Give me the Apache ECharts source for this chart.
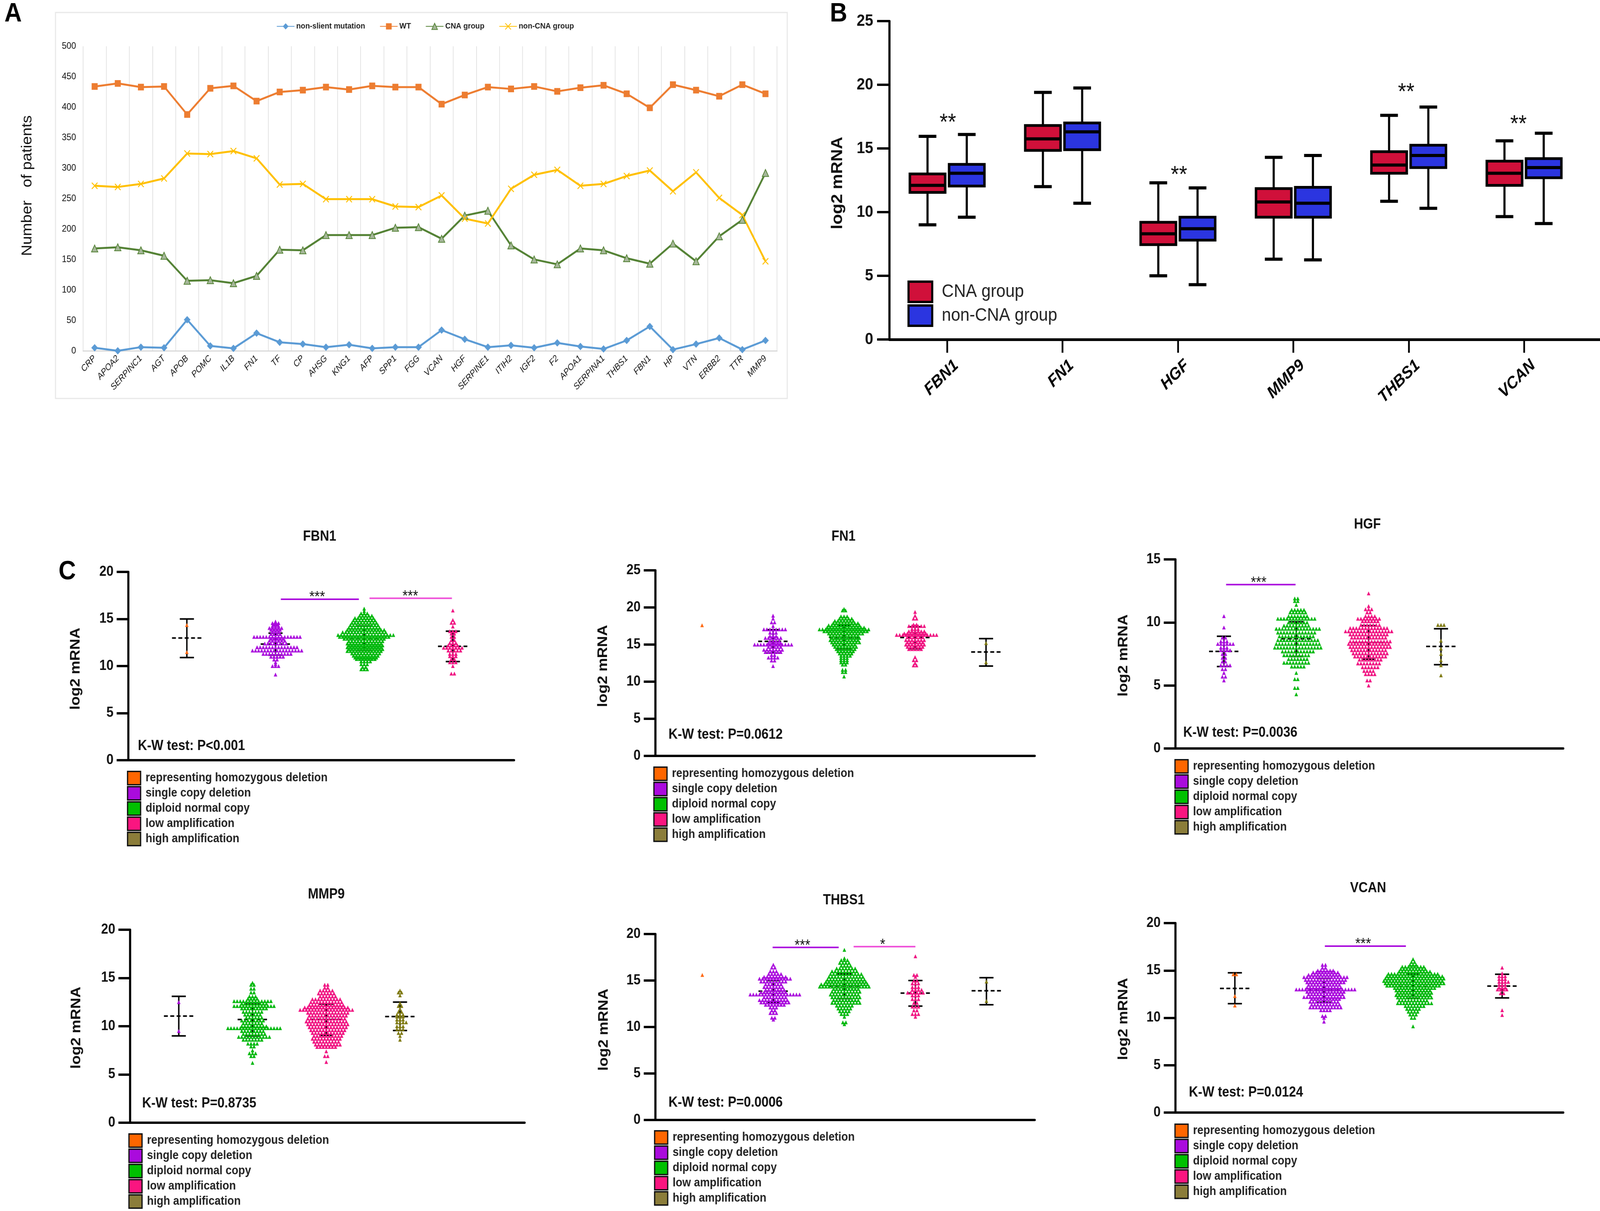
<!DOCTYPE html>
<html>
<head>
<meta charset="utf-8">
<title>CNA figure</title>
<script src="https://cdn.jsdelivr.net/npm/echarts@6/dist/echarts.min.js"></script>
<style>html,body{margin:0;padding:0;background:#fff;overflow:hidden;width:100%;height:100%}#c{width:4526px;height:3100px;transform-origin:0 0}</style>
</head>
<body>
<div id="c"></div>
<script>
// ---------- Panel A ----------
const genesA = ['CRP','APOA2','SERPINC1','AGT','APOB','POMC','IL1B','FN1','TF','CP','AHSG','KNG1','AFP','SPP1','FGG','VCAN','HGF','SERPINE1','ITIH2','IGF2','F2','APOA1','SERPINA1','THBS1','FBN1','HP','VTN','ERBB2','TTR','MMP9'];
const nonSilent = [5,0,6,5,51,8,4,29,14,11,6,10,4,6,6,34,19,6,9,5,13,7,3,17,40,2,11,21,2,17];
const wildType = [434,439,433,434,388,431,435,410,425,428,433,429,435,433,433,405,420,433,430,434,426,432,436,422,399,437,428,418,437,422];
const cnaCounts = [168,170,165,156,115,116,111,123,166,165,190,190,190,202,203,184,222,230,173,150,142,168,165,152,143,176,147,188,215,292];
const nonCnaCounts = [271,269,274,283,324,323,328,316,273,274,249,249,249,237,236,255,217,209,266,289,297,271,274,287,296,262,293,251,223,147];

// ---------- Panel B: [category index, low, q1, median, q3, high] ----------
const genesB = ['FBN1','FN1','HGF','MMP9','THBS1','VCAN'];
const boxCna = [[0,9.0,11.55,12.1,13.0,15.95],[1,12.0,14.85,15.75,16.8,19.4],[2,5.0,7.45,8.3,9.2,12.3],[3,6.3,9.6,10.8,11.85,14.3],[4,10.85,13.05,13.7,14.75,17.6],[5,9.65,12.1,13.05,14.0,15.6]];
const boxNonCna = [[0,9.6,12.05,13.05,13.75,16.1],[1,10.7,14.9,16.3,17.0,19.75],[2,4.3,7.8,8.7,9.6,11.9],[3,6.25,9.6,10.7,11.95,14.45],[4,10.3,13.5,14.45,15.25,18.25],[5,9.1,12.7,13.5,14.2,16.2]];
const bStars = [[0,17.4],[2,13.3],[4,19.8],[5,17.3]];

// ---------- Panel C swarms: rows of [log2 mRNA, number of points in the row] ----------
const fbn1Homo = [[14.36,1],[11.48,1]];
const fbn1Single = [[14.73,1],[14.56,3],[14.4,2],[14.25,3],[14.05,5],[13.85,4],[13.65,3],[13.4,4],[13.1,16],[12.9,5],[12.7,6],[12.4,8],[12.0,14],[11.65,17],[11.3,10],[11.0,5],[10.7,2],[10.4,1],[10.2,1],[10.0,3],[9.1,1]];
const fbn1Diploid = [[16.1,1],[15.85,1],[15.6,3],[15.35,5],[15.1,7],[14.85,8],[14.6,9],[14.35,10],[14.07,11],[13.85,13],[13.6,15],[13.3,19],[13.1,17],[12.9,14],[12.65,12],[12.4,12],[12.2,12],[12.0,12],[11.8,12],[11.6,12],[11.35,10],[11.1,9],[10.9,8],[10.75,7],[10.5,4],[10.2,3],[9.9,2],[9.66,3]];
const fbn1Low = [[15.9,1],[14.9,1],[14.6,2],[14.2,1],[13.7,3],[13.45,2],[13.1,2],[12.75,2],[12.45,3],[12.2,4],[11.95,7],[11.65,5],[11.3,3],[11.05,3],[10.75,2],[10.4,3],[10.0,1],[9.2,2]];
const fn1Homo = [[17.6,1]];
const fn1Single = [[18.9,1],[18.5,1],[18.0,2],[17.5,1],[17.05,8],[16.6,3],[16.15,3],[15.9,6],[15.5,4],[15.2,5],[15.0,13],[14.7,5],[14.3,7],[14.0,6],[13.6,2],[13.25,4],[12.85,2],[12.1,1]];
const fn1Diploid = [[19.8,1],[19.6,2],[18.8,3],[18.5,5],[18.2,7],[17.9,9],[17.6,11],[17.3,13],[17.05,17],[16.8,15],[16.5,12],[16.2,10],[15.9,10],[15.6,10],[15.3,10],[15.0,8],[14.7,8],[14.4,7],[14.1,6],[13.8,5],[13.5,4],[13.2,3],[12.9,3],[12.6,3],[12.3,2],[11.6,2],[11.3,2],[10.7,1]];
const fn1Low = [[19.4,1],[18.9,1],[18.5,2],[17.7,2],[17.5,6],[17.1,3],[16.8,6],[16.5,8],[16.3,14],[16.0,6],[15.6,7],[15.3,6],[15.0,7],[14.7,6],[14.4,5],[13.3,1],[12.9,2],[12.5,1],[12.2,2]];
const fn1High = [[15.2,1],[12.6,1]];
const hgfSingle = [[10.5,1],[9.6,1],[8.8,2],[8.5,3],[8.3,6],[8.0,3],[7.8,4],[7.5,2],[7.2,2],[6.9,2],[6.6,4],[6.3,2],[6.0,1],[5.7,2],[5.4,1]];
const hgfDiploid = [[11.9,2],[11.7,2],[11.4,1],[11.0,5],[10.8,6],[10.5,7],[10.3,13],[10.0,7],[9.75,9],[9.5,15],[9.2,13],[8.9,12],[8.6,14],[8.3,15],[8.0,16],[7.7,11],[7.4,9],[7.1,7],[6.8,9],[6.5,5],[6.0,1],[5.5,2],[4.8,2],[4.3,1]];
const hgfLow = [[12.3,1],[11.3,1],[11.05,3],[10.8,2],[10.5,4],[10.3,8],[10.1,6],[9.8,7],[9.55,13],[9.3,16],[9.05,13],[8.8,12],[8.5,14],[8.3,14],[8.05,14],[7.8,12],[7.55,12],[7.3,11],[7.05,8],[6.75,8],[6.45,6],[6.15,4],[5.9,4],[5.4,2],[5.0,1]];
const hgfHigh = [[9.8,3],[8.55,1],[7.93,1],[7.5,1],[7.0,1],[6.6,1],[5.8,1]];
const mmp9Single = [[12.5,1],[9.5,1]];
const mmp9Diploid = [[14.5,1],[14.3,2],[13.9,2],[13.5,2],[13.1,3],[12.85,4],[12.6,13],[12.35,9],[12.1,14],[11.85,9],[11.5,7],[11.2,6],[10.9,6],[10.6,8],[10.3,7],[10.0,9],[9.8,18],[9.5,8],[9.2,8],[8.9,11],[8.6,7],[8.2,4],[7.9,2],[7.5,1],[7.2,3],[6.9,2],[6.2,1]];
const mmp9Low = [[14.3,2],[14.0,2],[13.7,5],[13.4,6],[13.1,6],[12.8,10],[12.5,11],[12.2,12],[11.95,15],[11.7,18],[11.4,14],[11.1,13],[10.8,13],[10.5,14],[10.2,14],[9.9,13],[9.6,12],[9.3,11],[9.0,10],[8.7,10],[8.4,9],[8.1,9],[7.85,7],[7.4,1],[6.9,2],[6.3,1]];
const mmp9High = [[13.7,1],[13.5,2],[13.2,1],[12.4,1],[12.1,2],[11.8,1],[11.5,2],[11.2,3],[11.0,3],[10.7,3],[10.4,4],[10.0,3],[9.7,3],[9.3,2],[9.0,1],[8.6,1]];
const thbs1Homo = [[15.6,1]];
const thbs1Single = [[16.7,1],[16.4,2],[16.0,3],[15.7,5],[15.4,8],[15.2,11],[14.9,9],[14.6,6],[14.3,7],[14.0,7],[13.75,9],[13.5,17],[13.2,8],[12.9,10],[12.65,10],[12.4,7],[12.1,3],[11.8,2],[11.5,3],[11.0,2],[10.8,1]];
const thbs1Diploid = [[18.3,1],[17.4,1],[17.2,3],[16.9,4],[16.6,4],[16.3,7],[16.0,9],[15.7,11],[15.4,12],[15.1,13],[14.85,14],[14.6,16],[14.35,17],[14.1,9],[13.8,10],[13.5,10],[13.2,10],[12.9,9],[12.6,10],[12.3,6],[12.0,5],[11.7,4],[11.4,3],[11.1,1],[10.5,2],[10.3,1]];
const thbs1Low = [[17.6,1],[15.6,2],[15.4,1],[15.0,2],[14.7,3],[14.3,3],[14.0,4],[13.7,6],[13.4,3],[13.0,3],[12.6,2],[12.2,3],[11.8,2],[11.4,3],[11.1,1]];
const thbs1High = [[14.9,1],[12.8,1]];
const vcanHomo = [[14.6,2],[12.3,1],[11.3,1]];
const vcanSingle = [[15.6,2],[15.3,2],[15.0,6],[14.8,9],[14.55,11],[14.3,15],[14.0,14],[13.75,13],[13.5,11],[13.2,12],[13.0,20],[12.75,13],[12.5,12],[12.2,14],[12.0,10],[11.7,10],[11.4,10],[11.1,11],[10.8,4],[10.2,2],[10.0,1],[9.6,1]];
const vcanDiploid = [[16.2,1],[15.9,2],[15.6,3],[15.4,8],[15.15,9],[14.9,11],[14.65,17],[14.4,19],[14.15,20],[13.9,20],[13.65,20],[13.4,18],[13.15,14],[12.9,12],[12.65,12],[12.4,12],[12.15,12],[11.85,10],[11.55,12],[11.25,7],[10.95,5],[10.65,4],[10.35,3],[10.0,2],[9.1,1]];
const vcanLow = [[15.3,1],[14.7,1],[14.4,3],[14.1,3],[13.8,4],[13.5,3],[13.2,3],[13.0,4],[12.6,2],[10.8,1],[10.3,1]];

// Mean and SD bars: [slot, mean - SD, mean, mean + SD]
const fbn1Stats = [[0,10.9,12.98,15.0],[1,11.15,12.33,13.5],[2,11.67,12.95,14.24],[3,10.48,12.1,13.7]];
const fn1Stats = [[1,13.84,15.44,17.0],[2,14.45,15.95,17.55],[3,14.45,15.95,17.4],[4,12.1,14.0,15.8]];
const hgfStats = [[1,6.5,7.7,8.9],[2,7.3,8.7,10.05],[3,7.07,8.4,9.75],[4,6.65,8.1,9.5]];
const mmp9Stats = [[1,9.0,11.05,13.1],[2,9.0,10.7,12.3],[3,9.05,10.7,12.3],[4,9.55,11.0,12.5]];
const thbs1Stats = [[1,12.65,13.85,15.0],[2,13.05,14.4,15.7],[3,12.25,13.65,15.0],[4,12.4,13.9,15.3]];
const vcanStats = [[0,11.5,13.1,14.75],[1,11.65,12.9,14.15],[2,12.05,13.3,14.6],[3,12.1,13.35,14.6]];

// Significance bars: [from slot, to slot, value, star slot, stars, kind]
const fbn1Sig = [[1.06,1.94,17.1,1.47,'***',0],[2.06,2.99,17.2,2.52,'***',1]];
const hgfSig = [[1.03,1.99,13.0,1.48,'***',0]];
const thbs1Sig = [[0.99,1.92,18.56,1.41,'***',0],[2.13,3.0,18.65,2.54,'*',1]];
const vcanSig = [[1.01,1.92,17.57,1.44,'***',0]];

const groupNames = ['representing homozygous deletion','single copy deletion','diploid normal copy','low amplification','high amplification'];
const swatchColors = ['#FF6600','#AA0BDD','#00C000','#FA1580','#8B7D3A'];
const pointColors = ['#FF6A13','#AA0BDD','#00B80C','#F01482','#7F7A12'];
const sigColors = ['#AA0BDD','#EE4FD8'];

const font = '"Liberation Sans", Arial, sans-serif';

// ---------- layout of the six small charts (pixels) ----------
const panels = [
 {title:'FBN1',l:363,t:1464,r:1454,b:1946,ymax:20,xmin:-0.66,xmax:3.69,sp:251,tx:904,ty:1376,kw:'K-W test: P<0.001',kx:390,ky:1910,lx:359,ly:1973,nameX:234,nameShift:-14,
  swarms:[[0,fbn1Homo],[1,fbn1Single],[2,fbn1Diploid],[3,fbn1Low]],stats:fbn1Stats,sig:fbn1Sig},
 {title:'FN1',l:1854,t:1460,r:2927,b:1935,ymax:25,xmin:-0.657,xmax:4.686,sp:200.8,tx:2386,ty:1376,kw:'K-W test: P=0.0612',kx:1891,ky:1881,lx:1848,ly:1962,nameX:1726,nameShift:-15,
  swarms:[[0,fn1Homo],[1,fn1Single],[2,fn1Diploid],[3,fn1Low],[4,fn1High]],stats:fn1Stats,sig:[]},
 {title:'HGF',l:3325,t:1432,r:4422,b:1916,ymax:15,xmin:0.33,xmax:5.69,sp:204.7,tx:3868,ty:1345,kw:'K-W test: P=0.0036',kx:3347,ky:1876,lx:3322,ly:1943,nameX:3198,nameShift:-8,
  swarms:[[1,hgfSingle],[2,hgfDiploid],[3,hgfLow],[4,hgfHigh]],stats:hgfStats,sig:hgfSig},
 {title:'MMP9',l:368,t:2380,r:1484,b:2874,ymax:20,xmin:0.34,xmax:5.69,sp:208.7,tx:923,ty:2292,kw:'K-W test: P=0.8735',kx:402,ky:2825,lx:363,ly:2901,nameX:236,nameShift:-8,
  swarms:[[1,mmp9Single],[2,mmp9Diploid],[3,mmp9Low],[4,mmp9High]],stats:mmp9Stats,sig:[]},
 {title:'THBS1',l:1854,t:2391,r:2927,b:2867,ymax:20,xmin:-0.66,xmax:4.68,sp:200.5,tx:2387,ty:2307,kw:'K-W test: P=0.0006',kx:1891,ky:2823,lx:1850,ly:2893,nameX:1728,nameShift:-14,
  swarms:[[0,thbs1Homo],[1,thbs1Single],[2,thbs1Diploid],[3,thbs1Low],[4,thbs1High]],stats:thbs1Stats,sig:thbs1Sig},
 {title:'VCAN',l:3325,t:2363,r:4422,b:2848,ymax:20,xmin:-0.667,xmax:3.686,sp:252,tx:3870,ty:2276,kw:'K-W test: P=0.0124',kx:3363,ky:2797,lx:3322,ly:2876,nameX:3198,nameShift:-6,
  swarms:[[0,vcanHomo],[1,vcanSingle],[2,vcanDiploid],[3,vcanLow]],stats:vcanStats,sig:vcanSig}
];

const grids=[], xAxes=[], yAxes=[], series=[], legends=[], titles=[], graphics=[];

// frame and panel letters
graphics.push({type:'rect',z:-10,shape:{x:157,y:32,width:2070,height:988},style:{fill:'#fff',stroke:'#e8e8e8',lineWidth:3}});
[['A',37,36],['B',2372,36],['C',190,1464]].forEach(a=>graphics.push({type:'text',x:a[1],y:a[2],style:{text:a[0],font:'bold 68px '+font,fill:'#000',textAlign:'center',textVerticalAlign:'middle'}}));

// ---------- A ----------
grids.push({left:235,top:118.5,width:1963,height:779.5});
xAxes.push({type:'category',gridIndex:0,data:genesA,boundaryGap:true,
  axisLine:{show:true,lineStyle:{color:'#d9d9d9',width:3}},axisTick:{show:false},
  splitLine:{show:true,interval:0,lineStyle:{color:'#e2e2e2',width:2}},
  axisLabel:{interval:0,rotate:45,margin:16,fontFamily:font,fontStyle:'italic',fontSize:23,color:'#111'}});
yAxes.push({type:'value',gridIndex:0,min:0,max:500,interval:50,name:'Number   of patients',nameLocation:'middle',nameGap:137,
  nameTextStyle:{fontFamily:font,fontSize:40,color:'#111',padding:[0,0,0,66]},
  axisLine:{show:false},axisTick:{show:false},splitLine:{show:false},
  axisLabel:{margin:20,fontFamily:font,fontSize:24,color:'#111'}});
const xPath='path://M0 0L10 10M10 0L0 10';
[['non-slient mutation',nonSilent,'#5B9BD5','diamond',19,'#5B9BD5',0],
 ['WT',wildType,'#ED7D31','rect',17,'#ED7D31',0],
 ['CNA group',cnaCounts,'#548235','triangle',18,'#A6B79A',2],
 ['non-CNA group',nonCnaCounts,'#FFC000',xPath,16,'none',2.5]].forEach(s=>{
  series.push({name:s[0],type:'line',xAxisIndex:0,yAxisIndex:0,data:s[1],symbol:s[3],symbolSize:s[4],showSymbol:true,
    lineStyle:{color:s[2],width:5},itemStyle:{color:s[5],borderColor:s[2],borderWidth:s[6]},z:3});
});
legends.push({left:782,top:57,itemWidth:50,itemHeight:20,itemGap:41,padding:0,
  data:['non-slient mutation','WT','CNA group','non-CNA group'],
  textStyle:{fontFamily:font,fontWeight:'bold',fontSize:21,color:'#222'}});

// ---------- B ----------
const bTop=54,bBottom=869;
const bTicks=genesB.map((g,i)=>i);
grids.push({left:2516,top:bTop,right:0,height:bBottom-bTop});
xAxes.push({type:'value',gridIndex:1,min:-0.5,max:5.658,
  axisLine:{show:true,onZero:false,lineStyle:{color:'#000',width:7}},
  axisTick:{show:true,customValues:bTicks,length:34,lineStyle:{color:'#000',width:5}},
  splitLine:{show:false},
  axisLabel:{customValues:bTicks,formatter:v=>genesB[v],rotate:42,margin:32,verticalAlign:'top',padding:[17,0,0,0],lineHeight:43,fontFamily:font,fontWeight:'bold',fontStyle:'italic',fontSize:43,color:'#000'}});
yAxes.push({type:'value',gridIndex:1,min:0,max:25,interval:5,name:'log2 mRNA',nameLocation:'middle',nameGap:124,
  nameTextStyle:{fontFamily:font,fontWeight:'bold',fontSize:44,color:'#111',padding:[0,14,0,0]},
  axisLine:{show:true,onZero:false,lineStyle:{color:'#000',width:6}},
  axisTick:{show:true,length:35,lineStyle:{color:'#000',width:6}},splitLine:{show:false},
  axisLabel:{margin:46,fontFamily:font,fontWeight:'bold',fontSize:42,color:'#111'}});
function boxRender(shift,fill){
  return function(params,api){
    const cat=api.value(0),p=k=>api.coord([cat,api.value(k)]);
    const lo=p(1),q1=p(2),med=p(3),q3=p(4),hi=p(5);
    const x=lo[0]+shift,hb=50,hc=25;
    const ln=(x1,y1,x2,y2,w)=>({type:'line',shape:{x1,y1,x2,y2},style:{stroke:'#000',lineWidth:w||6}});
    return {type:'group',children:[
      ln(x,hi[1],x,q3[1]),ln(x,q1[1],x,lo[1]),
      ln(x-hc,hi[1],x+hc,hi[1],8),ln(x-hc,lo[1],x+hc,lo[1],8),
      {type:'rect',shape:{x:x-hb,y:q3[1],width:hb*2,height:q1[1]-q3[1]},style:{fill:fill,stroke:'#000',lineWidth:7}},
      ln(x-hb,med[1],x+hb,med[1],8)
    ]};
  };
}
series.push({name:'CNA group ',type:'custom',xAxisIndex:1,yAxisIndex:1,data:boxCna,renderItem:boxRender(-55.5,'#D0103A'),encode:{x:0,y:[1,2,3,4,5]},z:3,silent:true});
series.push({name:'non-CNA group ',type:'custom',xAxisIndex:1,yAxisIndex:1,data:boxNonCna,renderItem:boxRender(55.5,'#2B35E0'),encode:{x:0,y:[1,2,3,4,5]},z:3,silent:true});
const bStarShift={0:2,2:3,4:-7,5:-16};
series.push({name:'B significance',type:'custom',xAxisIndex:1,yAxisIndex:1,data:bStars,encode:{x:0,y:1},z:4,silent:true,
  renderItem(params,api){
    const c=api.coord([api.value(0),api.value(1)]);
    return {type:'text',x:c[0]+(bStarShift[api.value(0)]||0),y:c[1]+14,style:{text:'**',font:'60px '+font,fill:'#111',textAlign:'center',textVerticalAlign:'middle'}};
  }});
legends.push({left:2567,top:718,height:200,orient:'vertical',itemWidth:67,itemHeight:52,itemGap:3,padding:0,
  data:[{name:'CNA group ',icon:'rect',itemStyle:{color:'#D0103A',borderColor:'#000',borderWidth:6,opacity:1}},
        {name:'non-CNA group ',icon:'rect',itemStyle:{color:'#2B35E0',borderColor:'#000',borderWidth:6,opacity:1}}],
  formatter:n=>n.trim(),
  textStyle:{fontFamily:font,fontSize:47,color:'#222',padding:[0,0,0,22]}});

// ---------- C ----------
const ptGap=8.7;
panels.forEach((p,i)=>{
  const gi=i+2;
  grids.push({left:p.l,top:p.t,width:p.r-p.l,height:p.b-p.t});
  xAxes.push({type:'value',gridIndex:gi,min:p.xmin,max:p.xmax,axisLine:{show:true,onZero:false,lineStyle:{color:'#000',width:6}},axisTick:{show:false},axisLabel:{show:false},splitLine:{show:false}});
  yAxes.push({type:'value',gridIndex:gi,min:0,max:p.ymax,interval:5,name:'log2 mRNA',nameLocation:'middle',nameGap:p.l-p.nameX,
    nameTextStyle:{fontFamily:font,fontWeight:'bold',fontSize:39,color:'#111',padding:p.nameShift<0?[0,-p.nameShift,0,0]:[0,0,0,p.nameShift]},
    axisLine:{show:true,onZero:false,lineStyle:{color:'#000',width:6}},axisTick:{show:true,length:33,lineStyle:{color:'#000',width:6}},splitLine:{show:false},
    axisLabel:{margin:42,fontFamily:font,fontWeight:'bold',fontSize:36,color:'#111'}});
  titles.push({text:p.title,left:p.tx,top:p.ty-20,textAlign:'center',padding:0,textStyle:{fontFamily:font,fontWeight:'bold',fontSize:36,color:'#111'}});
  graphics.push({type:'text',x:p.kx,y:p.ky,style:{text:p.kw,font:'bold 36px '+font,fill:'#111',textAlign:'left',textVerticalAlign:'middle'}});
  // mean and SD bars, behind the points
  series.push({name:p.title+' mean and SD',type:'custom',xAxisIndex:gi,yAxisIndex:gi,data:p.stats,encode:{x:0,y:[1,2,3]},z:2,silent:true,
    renderItem(params,api){
      const s=api.value(0),lo=api.coord([s,api.value(1)]),m=api.coord([s,api.value(2)]),hi=api.coord([s,api.value(3)]);
      const x=lo[0];
      const ln=(x1,y1,x2,y2,extra)=>({type:'line',shape:{x1,y1,x2,y2},style:Object.assign({stroke:'#000',lineWidth:4},extra||{})});
      return {type:'group',children:[
        ln(x,lo[1],x,hi[1]),ln(x-20,lo[1],x+20,lo[1]),ln(x-20,hi[1],x+20,hi[1]),
        ln(x-42,m[1],x+42,m[1],{lineDash:[11,7]})
      ]};
    }});
  // points: rows expanded side by side around the slot, successive rows staggered by half a place
  p.swarms.forEach(sw=>{
    const slot=sw[0],rows=sw[1],dx=ptGap/p.sp,pts=[];
    rows.forEach((r,ri)=>{
      const onHalf=r[1]%2===0, wantHalf=ri%2===1;
      const stagger=(r[1]>3 && onHalf!==wantHalf)?0.5:0;
      for(let k=0;k<r[1];k++)pts.push([slot+(k-(r[1]-1)/2+stagger)*dx,r[0]]);
    });
    series.push({name:groupNames[slot],type:'scatter',xAxisIndex:gi,yAxisIndex:gi,data:pts,symbol:'triangle',symbolSize:[10,10],
      itemStyle:{color:pointColors[slot],opacity:1},z:3,silent:true});
  });
  if(p.sig.length){
    series.push({name:p.title+' significance',type:'custom',xAxisIndex:gi,yAxisIndex:gi,data:p.sig.map(s=>s.slice()),encode:{x:[0,1,3],y:2},z:4,silent:true,
      renderItem(params,api){
        const a=api.coord([api.value(0),api.value(2)]),b=api.coord([api.value(1),api.value(2)]),c=api.coord([api.value(3),api.value(2)]);
        const row=p.sig[params.dataIndex];
        return {type:'group',children:[
          {type:'line',shape:{x1:a[0],y1:a[1],x2:b[0],y2:b[1]},style:{stroke:sigColors[row[5]],lineWidth:4}},
          {type:'text',x:c[0],y:a[1]-4,style:{text:row[4],font:'38px '+font,fill:'#111',textAlign:'center',textVerticalAlign:'middle'}}
        ]};
      }});
  }
  legends.push({orient:'vertical',left:p.lx,top:p.ly,height:260,itemWidth:37,itemHeight:34,itemGap:1.5,padding:0,
    data:groupNames.map((n,k)=>({name:n,icon:'rect',itemStyle:{color:swatchColors[k],borderColor:'#111',borderWidth:3.5,opacity:1}})),
    textStyle:{fontFamily:font,fontWeight:'bold',fontSize:31,color:'#222',padding:[0,0,0,9]}});
});

const el=document.getElementById('c');
// The figure is drawn at 4526x3100 and fitted to the window actually given, so nothing is cut off.
el.style.transform='scale('+(window.innerWidth/4526)+','+(window.innerHeight/3100)+')';
const chart=echarts.init(el,null,{renderer:'canvas',width:4526,height:3100,devicePixelRatio:1});
chart.setOption({animation:false,backgroundColor:'#fff',title:titles,grid:grids,xAxis:xAxes,yAxis:yAxes,legend:legends,series:series,graphic:{elements:graphics},tooltip:{show:false}});
</script>
</body>
</html>
